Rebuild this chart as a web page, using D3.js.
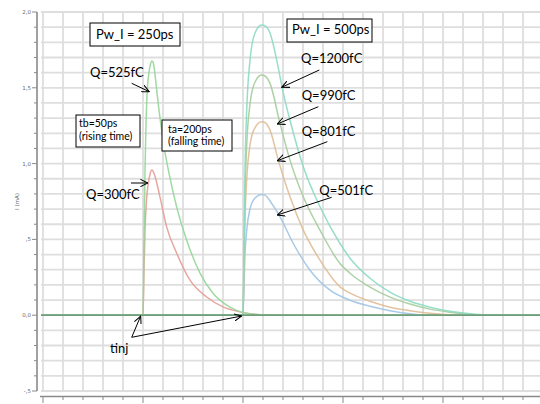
<!DOCTYPE html>
<html><head><meta charset="utf-8">
<script src="https://cdn.jsdelivr.net/npm/d3@7"></script>
<style>html,body{margin:0;padding:0;background:#fff;} svg{display:block;}</style>
</head><body><svg id="c" width="540" height="404"></svg>
<script>
// ---------- DATA (time in ns, current in mA) ----------
const yTickValues = [-0.5, 0, 0.5, 1.0, 1.5, 2.0];
const yTickLabels = ["-,5", "0,0", ",5", "1,0", "1,5", "2,0"];
const seriesNames = ["Q=300fC", "Q=525fC", "Q=501fC", "Q=801fC", "Q=990fC", "Q=1200fC"];
const seriesColors = ["#e49c95", "#93d698", "#9fc4e4", "#e0bc93", "#a5cc9b", "#8cdac3"];

const q300 = [[0,0],[1.00,0],[1.01,0.297],[1.02,0.561],[1.035,0.759],[1.053,0.871],[1.07,0.93],[1.087,0.957],[1.10,0.95],[1.12,0.917],[1.17,0.779],[1.237,0.581],[1.337,0.409],[1.47,0.231],[1.637,0.12],[1.80,0.055],[1.97,0.022],[2.17,0.003],[2.37,0],[5,0]];
const q525 = [[0,0],[1.00,0],[1.01,0.495],[1.02,0.957],[1.03,1.254],[1.043,1.485],[1.06,1.603],[1.075,1.656],[1.087,1.676],[1.10,1.669],[1.115,1.617],[1.137,1.485],[1.16,1.353],[1.187,1.221],[1.22,1.076],[1.26,0.937],[1.337,0.713],[1.437,0.495],[1.57,0.277],[1.70,0.145],[1.87,0.053],[2.00,0.017],[2.17,0.003],[2.37,0],[5,0]];
const q501 = [[0,0],[2.00,0],[2.01,0.199],[2.02,0.399],[2.037,0.559],[2.07,0.701],[2.12,0.773],[2.187,0.797],[2.22,0.792],[2.287,0.737],[2.37,0.649],[2.503,0.473],[2.67,0.297],[2.87,0.165],[3.07,0.099],[3.27,0.059],[3.47,0.030],[3.67,0.010],[3.87,0],[5,0]];
const q801 = [[0,0],[2.00,0],[2.01,0.319],[2.02,0.638],[2.037,0.893],[2.07,1.123],[2.12,1.238],[2.187,1.276],[2.22,1.271],[2.27,1.221],[2.353,1.023],[2.47,0.781],[2.603,0.561],[2.77,0.363],[2.97,0.187],[3.07,0.145],[3.27,0.092],[3.47,0.053],[3.67,0.030],[3.87,0.013],[4.17,0],[5,0]];
const q990 = [[0,0],[2.00,0],[2.01,0.396],[2.02,0.792],[2.037,1.122],[2.07,1.393],[2.12,1.538],[2.187,1.584],[2.22,1.578],[2.27,1.529],[2.37,1.265],[2.47,1.023],[2.603,0.781],[2.77,0.561],[2.97,0.341],[3.07,0.277],[3.27,0.185],[3.47,0.119],[3.67,0.074],[3.87,0.040],[4.07,0.020],[4.32,0.003],[4.57,0],[5,0]];
const q1200 = [[0,0],[2.00,0],[2.01,0.479],[2.02,0.957],[2.037,1.353],[2.07,1.683],[2.12,1.861],[2.187,1.914],[2.22,1.908],[2.27,1.861],[2.337,1.683],[2.403,1.465],[2.487,1.243],[2.603,0.979],[2.77,0.715],[2.97,0.473],[3.07,0.376],[3.27,0.244],[3.47,0.152],[3.67,0.092],[3.87,0.053],[4.07,0.026],[4.32,0.007],[4.57,0],[5,0]];
const seriesData = [q300, q525, q501, q801, q990, q1200];

// ---------- SCALES ----------
const W = 540, H = 404;
const svg = d3.select("#c");
svg.append("rect").attr("width", W).attr("height", H).attr("fill", "#fff");
const x = d3.scaleLinear().domain([0, 5]).range([43, 543]);
const y = d3.scaleLinear().domain([-0.5, 2.0]).range([391, 12]);

// ---------- GRID ----------
const grid = svg.append("g").attr("stroke", "#dedede").attr("stroke-width", 1.8);
d3.range(0, 25).map(i => i * 0.2).forEach(t => {
  grid.append("line").attr("x1", x(t)).attr("x2", x(t)).attr("y1", y(2.0)).attr("y2", y(-0.5));
});
d3.range(0, 26).map(i => -0.5 + i * 0.1).forEach(v => {
  grid.append("line").attr("x1", 41).attr("x2", W).attr("y1", y(v)).attr("y2", y(v));
});

// ---------- Y AXIS ----------
const ax = svg.append("g");
ax.append("line").attr("x1", 37).attr("x2", 37).attr("y1", y(2.0)).attr("y2", y(-0.5))
  .attr("stroke", "#8a8a8a").attr("stroke-width", 1.6);
d3.range(0, 26).map(i => -0.5 + i * 0.1).forEach((v, i) => {
  const major = i % 5 === 0;
  ax.append("line").attr("x1", major ? 32 : 34).attr("x2", 37).attr("y1", y(v)).attr("y2", y(v))
    .attr("stroke", "#8a8a8a").attr("stroke-width", 1);
});
yTickValues.forEach((v, i) => {
  ax.append("text").attr("x", 31).attr("y", y(v) + 2).attr("text-anchor", "end")
    .attr("font-family", "DejaVu Sans").attr("font-size", 5.5).attr("fill", "#6a6a6a")
    .text(yTickLabels[i]);
});
ax.append("text").attr("transform", `translate(19,${y(0.75)}) rotate(-90)`).attr("text-anchor", "middle")
  .attr("font-family", "DejaVu Sans").attr("font-size", 5.5).attr("fill", "#6a6a6a").text("I (mA)");

// ---------- X AXIS ----------
ax.append("line").attr("x1", 40).attr("x2", W).attr("y1", 396.5).attr("y2", 396.5)
  .attr("stroke", "#8a8a8a").attr("stroke-width", 1.4);
d3.range(0, 25).forEach(i => {
  const t = i * 0.2, major = i % 5 === 0;
  ax.append("line").attr("x1", x(t)).attr("x2", x(t)).attr("y1", 396.5).attr("y2", major ? 403 : 400)
    .attr("stroke", "#8a8a8a").attr("stroke-width", 1);
});

// ---------- CURVES ----------
const line = d3.line().x(d => x(d[0])).y(d => y(d[1])).curve(d3.curveMonotoneX);
const plot = svg.append("g");
seriesData.forEach((s, i) => {
  plot.append("path").attr("d", line(s)).attr("fill", "none")
    .attr("stroke", seriesColors[i]).attr("stroke-width", 1.5).attr("stroke-opacity", 0.9);
});
plot.append("line").attr("x1", 41).attr("x2", W).attr("y1", y(0)).attr("y2", y(0))
  .attr("stroke", "#6f9f7a").attr("stroke-width", 1.8);

// ---------- ANNOTATIONS ----------
const defs = svg.append("defs");
defs.append("marker").attr("id", "arr").attr("viewBox", "0 0 10 10").attr("refX", 9.5).attr("refY", 5)
  .attr("markerWidth", 8).attr("markerHeight", 8).attr("markerUnits", "userSpaceOnUse").attr("orient", "auto")
  .append("path").attr("d", "M0,0.5 L9.5,5 L0,9.5").attr("fill", "none").attr("stroke", "#000").attr("stroke-width", 1.3);

const ann = svg.append("g").attr("font-family", "Lato, 'Open Sans', sans-serif").attr("fill", "#000");
function box(x0, y0, w, h) {
  ann.append("rect").attr("x", x0).attr("y", y0).attr("width", w).attr("height", h)
    .attr("fill", "#fff").attr("stroke", "#000").attr("stroke-width", 1);
}
function txt(tx, ty, s, fs) {
  ann.append("text").attr("x", tx).attr("y", ty).attr("font-size", fs).text(s);
}
function arrow(x1, y1, x2, y2) {
  ann.append("line").attr("x1", x1).attr("y1", y1).attr("x2", x2).attr("y2", y2)
    .attr("stroke", "#000").attr("stroke-width", 1).attr("marker-end", "url(#arr)");
}
box(90, 23, 90, 23); txt(96, 38.5, "Pw_I = 250ps", 13);
box(287, 19, 85, 23); txt(292, 34, "Pw_I = 500ps", 13);
box(76, 115, 64, 32); txt(79, 126.5, "tb=50ps", 10.5); txt(79, 140, "(rising time)", 10.5);
box(162, 120, 70, 31); txt(168, 132.5, "ta=200ps", 10.5); txt(168, 144.5, "(falling time)", 10.5);

txt(90, 77, seriesNames[1], 13); arrow(131.7, 83.3, 149.3, 91.7);
txt(86, 199, seriesNames[0], 13); arrow(131, 183, 148, 183);
txt(301, 63.3, seriesNames[5], 13); arrow(319.3, 70, 281.7, 87.3);
txt(301.7, 100, seriesNames[4], 13); arrow(318.3, 106.7, 277.3, 124);
txt(301.7, 136, seriesNames[3], 13); arrow(327.3, 141.7, 277.3, 160.7);
txt(319.3, 195, seriesNames[2], 13); arrow(331.7, 197.3, 277.3, 215);
txt(110, 353, "tinj", 13);
arrow(131.7, 337.3, 140.7, 316); arrow(131.7, 337.3, 241.7, 316);
</script></body></html>
